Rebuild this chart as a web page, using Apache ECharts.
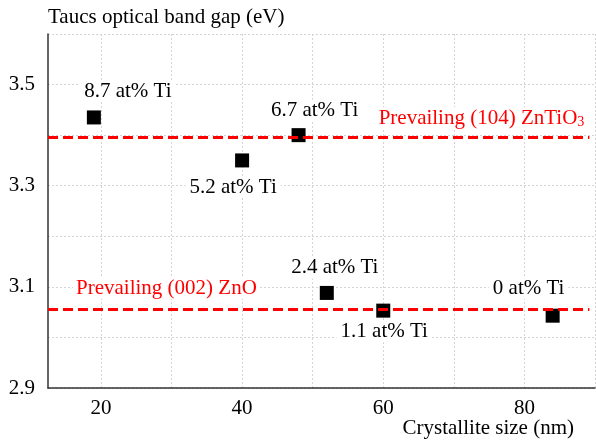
<!DOCTYPE html>
<html>
<head>
<meta charset="utf-8">
<style>
  html, body { margin: 0; padding: 0; background: #fff; }
  #chart { width: 596px; height: 441px; }
</style>
<script src="https://cdn.jsdelivr.net/npm/echarts@6/dist/echarts.min.js"></script>
</head>
<body>
<div id="chart"></div>
<script>
// crystallite size (nm) vs. Tauc optical band gap (eV)
var crystalliteSize = [19, 40, 48, 52, 60, 84];
var bandGap = [3.435, 3.35, 3.40, 3.088, 3.053, 3.043];
var tiContent = ['8.7 at% Ti', '5.2 at% Ti', '6.7 at% Ti', '2.4 at% Ti', '1.1 at% Ti', '0 at% Ti'];

// reference band-gap levels
var phaseNames = ['Prevailing (104) ZnTiO3', 'Prevailing (002) ZnO'];
var phaseGap = [3.396, 3.056];

var xTicks = [20, 30, 40, 50, 60, 70, 80, 90];
var xLabels = [20, 40, 60, 80];
var yTicks = [2.9, 3.0, 3.1, 3.2, 3.3, 3.4, 3.5, 3.6];
var yLabels = [2.9, 3.1, 3.3, 3.5];

// label placement relative to each marker
var labelOffset = [[34, -26], [-9, 27], [16, -25], [8, -25], [1, 21], [-24, -27]];

var font = '"Liberation Serif", "Times New Roman", serif';
var fs = 21;
var chart = echarts.init(document.getElementById('chart'));

var points = crystalliteSize.map(function (x, i) {
    return {
        value: [x, bandGap[i]],
        label: {
            show: true,
            position: 'inside',
            offset: labelOffset[i],
            formatter: tiContent[i],
            color: '#000',
            fontFamily: font,
            fontSize: fs,
            backgroundColor: '#fff',
            padding: [0, 4]
        }
    };
});

var phaseLabel = function (name) {
    return name.replace(/O3$/, 'O{sub|3}');
};

chart.setOption({
    animation: false,
    grid: { left: 48, top: 34, right: 1, bottom: 53, outerBoundsMode: 'none', containLabel: false },
    xAxis: {
        type: 'value',
        min: 12.5,
        max: 90,
        name: 'Crystallite size (nm)',
        nameLocation: 'end',
        nameGap: -21,
        nameMoveOverlap: false,
        nameTextStyle: {
            color: '#000', fontFamily: font, fontSize: fs,
            align: 'right', verticalAlign: 'top', padding: [30, 0, 0, 0]
        },
        axisLine: { lineStyle: { color: '#333', width: 1.5 } },
        axisTick: { show: false, customValues: xTicks },
        axisLabel: {
            customValues: xLabels,
            color: '#000', fontFamily: font, fontSize: fs, margin: 10
        },
        splitLine: { show: true, lineStyle: { color: '#d4d4d4', type: [2, 2], width: 1 } }
    },
    yAxis: {
        type: 'value',
        min: 2.9,
        max: 3.6,
        name: 'Taucs optical band gap (eV)',
        nameLocation: 'end',
        nameGap: 6,
        nameMoveOverlap: false,
        nameTextStyle: {
            color: '#000', fontFamily: font, fontSize: fs,
            align: 'left', verticalAlign: 'bottom'
        },
        axisLine: { show: true, lineStyle: { color: '#333', width: 1.5 } },
        axisTick: { show: false, customValues: yTicks },
        axisLabel: {
            customValues: yLabels,
            formatter: function (v) { return v.toFixed(1); },
            color: '#000', fontFamily: font, fontSize: fs, margin: 13
        },
        splitLine: { show: true, lineStyle: { color: '#d4d4d4', type: [2, 2], width: 1 } }
    },
    series: [{
        type: 'scatter',
        symbol: 'rect',
        symbolSize: 14,
        itemStyle: { color: '#000', opacity: 1 },
        data: points,
        z: 3,
        markLine: {
            silent: true,
            symbol: 'none',
            lineStyle: { color: '#ff0000', type: [10, 5], width: 3 },
            data: phaseGap.map(function (g, i) {
                return [{
                    coord: [12.5, g],
                    label: {
                        show: true,
                        position: i === 0 ? 'insideEndTop' : 'insideStartTop',
                        formatter: phaseLabel(phaseNames[i]),
                        distance: i === 0 ? [2, 8] : [25, 10],
                        color: '#ff0000',
                        fontFamily: font,
                        fontSize: fs,
                        backgroundColor: '#fff',
                        padding: [0, 3],
                        rich: {
                            sub: { color: '#ff0000', fontFamily: font, fontSize: 14, verticalAlign: 'bottom', padding: [8, 0, 0, 0] }
                        }
                    }
                }, {
                    coord: [89.2, g]
                }];
            })
        }
    }]
});
</script>
</body>
</html>
